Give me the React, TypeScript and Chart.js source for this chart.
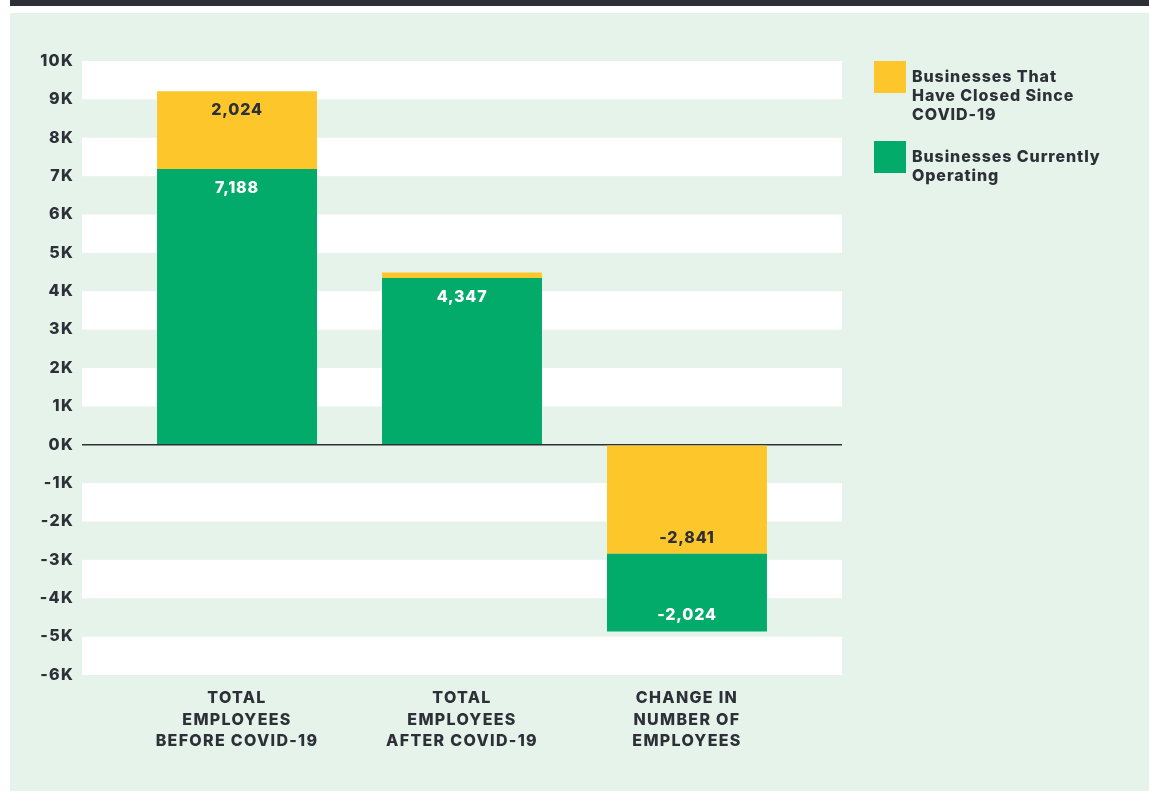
import React, { useEffect, useRef } from "react";
import { Chart, registerables } from "chart.js";

Chart.register(...registerables);

// ---- data ----
const categories: string[][] = [
  ["TOTAL", "EMPLOYEES", "BEFORE COVID-19"],
  ["TOTAL", "EMPLOYEES", "AFTER COVID-19"],
  ["CHANGE IN", "NUMBER OF", "EMPLOYEES"],
];
const operatingValues = [7188, 4347, -2024];
const closedValues = [2024, 140, -2841];
const closedLabelLines = ["Businesses That", "Have Closed Since", "COVID-19"];
const operatingLabelLines = ["Businesses Currently", "Operating"];
const yMin = -6000;
const yMax = 10000;
const yStep = 1000;

// ---- styles ----
const TEXT = "#2e3038";
const YELLOW = "#fdc72c";
const GREEN = "#03ab6b";
const PANEL = "#e5f3ea";
const FONT = "Inter, Lato, 'Noto Sans', sans-serif";
const WEIGHT = 800;

// floating ranges built from the values: the closed segment sits next to zero when negative
const operatingRanges = operatingValues.map((v, i) =>
  v >= 0 ? [0, v] : [closedValues[i], closedValues[i] + v]
);
const closedRanges = closedValues.map((v, i) =>
  v >= 0 ? [operatingValues[i], operatingValues[i] + v] : [0, v]
);

const bandPlugin = {
  id: "bands",
  beforeDraw(chart: any) {
    const { ctx, chartArea, scales } = chart;
    const y = scales.y;
    (ctx as any).letterSpacing = "1.3px";
    ctx.save();
    ctx.fillStyle = "#ffffff";
    for (let v = yMin; v < yMax; v += yStep) {
      const lo = v;
      const hi = v + yStep;
      const absLower = Math.min(Math.abs(lo), Math.abs(hi));
      if (Math.round(absLower / yStep) % 2 === 1) {
        const top = y.getPixelForValue(hi);
        const bottom = y.getPixelForValue(lo);
        ctx.fillRect(chartArea.left, top, chartArea.right - chartArea.left, bottom - top);
      }
    }
    ctx.restore();
  },
};

const valueLabelPlugin = {
  id: "valueLabels",
  afterDatasetsDraw(chart: any) {
    const { ctx } = chart;
    ctx.save();
    (ctx as any).letterSpacing = "0.8px";
    ctx.font = `${WEIGHT} 16px ${FONT}`;
    ctx.textAlign = "center";
    ctx.textBaseline = "middle";
    chart.data.datasets.forEach((ds: any, di: number) => {
      const meta = chart.getDatasetMeta(di);
      meta.data.forEach((el: any, i: number) => {
        const val = ds.values[i];
        const h = Math.abs(el.base - el.y);
        if (h < 26) return;
        const yPos = val >= 0 ? el.y + 19 : el.y - 16;
        ctx.fillStyle = ds.labelColor;
        ctx.fillText(val.toLocaleString("en-US"), el.x, yPos);
      });
    });
    ctx.restore();
  },
};

export default function App() {
  const canvasRef = useRef<HTMLCanvasElement | null>(null);

  useEffect(() => {
    if (!canvasRef.current) return;
    const n = categories.length;
    const pad = 0.189;
    const chart = new Chart(canvasRef.current, {
      type: "bar",
      data: {
        datasets: [
          {
            label: operatingLabelLines.join(" "),
            data: operatingRanges.map((r, i) => ({ x: i, y: r })) as any,
            backgroundColor: GREEN,
            grouped: false,
            categoryPercentage: 1,
            barPercentage: 0.711,
            values: operatingValues,
            labelColor: "#ffffff",
          } as any,
          {
            label: closedLabelLines.join(" "),
            data: closedRanges.map((r, i) => ({ x: i, y: r })) as any,
            backgroundColor: YELLOW,
            grouped: false,
            categoryPercentage: 1,
            barPercentage: 0.711,
            values: closedValues,
            labelColor: TEXT,
          } as any,
        ],
      },
      options: {
        animation: false,
        responsive: true,
        maintainAspectRatio: false,
        layout: { padding: { left: 0, right: 307, top: 61, bottom: 0 } },
        plugins: {
          legend: { display: false },
          tooltip: { enabled: false },
        },
        scales: {
          x: {
            type: "linear",
            offset: false,
            min: -0.5 - pad,
            max: n - 0.5 + pad,
            afterFit: (scale: any) => {
              scale.height = 123;
            },
            grid: { display: false, drawTicks: false, offset: false },
            border: { display: false },
            ticks: {
              stepSize: 1,
              includeBounds: false,
              autoSkip: false,
              maxRotation: 0,
              padding: 13,
              color: TEXT,
              font: { family: FONT, size: 16, weight: WEIGHT, lineHeight: 1.33 },
              callback: (value: any) =>
                Number.isInteger(value) && categories[value] ? categories[value] : "",
            },
          } as any,
          y: {
            type: "linear",
            min: yMin,
            max: yMax,
            afterFit: (scale: any) => {
              scale.width = 82;
            },
            grid: {
              drawTicks: false,
              color: (c: any) => (c.tick && c.tick.value === 0 ? TEXT : "rgba(0,0,0,0)"),
              lineWidth: 1.5,
            },
            border: { display: false },
            ticks: {
              stepSize: yStep,
              padding: 8,
              color: TEXT,
              font: { family: FONT, size: 16, weight: WEIGHT },
              callback: (value: any) => `${Number(value) / 1000}K`,
            },
          } as any,
        },
      },
      plugins: [bandPlugin, valueLabelPlugin],
    });
    return () => chart.destroy();
  }, []);

  const legendItems = [
    { color: YELLOW, lines: closedLabelLines },
    { color: GREEN, lines: operatingLabelLines },
  ];

  return (
    <div
      style={{
        position: "absolute",
        left: 0,
        top: 0,
        width: 1149,
        height: 798,
        background: "#ffffff",
        overflow: "hidden",
        fontFamily: FONT,
      }}
    >
      <div style={{ position: "absolute", left: 10, top: 0, width: 1139, height: 6, background: "#2d2f37" }} />
      <div style={{ position: "absolute", left: 10, top: 13, width: 1139, height: 778, background: PANEL }} />
      <div style={{ position: "absolute", left: 0, top: 0, width: 1149, height: 798 }}>
        <canvas ref={canvasRef} />
      </div>
      <div style={{ position: "absolute", left: 874, top: 61 }}>
        {legendItems.map((item, k) => (
          <div key={k} style={{ display: "flex", alignItems: "flex-start", marginBottom: 17 }}>
            <div style={{ width: 32, height: 32, background: item.color, flex: "0 0 auto" }} />
            <div
              style={{
                marginLeft: 6,
                paddingTop: 6,
                fontSize: 16,
                lineHeight: "19px",
                fontWeight: WEIGHT,
                letterSpacing: "0.9px",
                color: TEXT,
                whiteSpace: "nowrap",
              }}
            >
              {item.lines.map((l, j) => (
                <div key={j}>{l}</div>
              ))}
            </div>
          </div>
        ))}
      </div>
    </div>
  );
}
